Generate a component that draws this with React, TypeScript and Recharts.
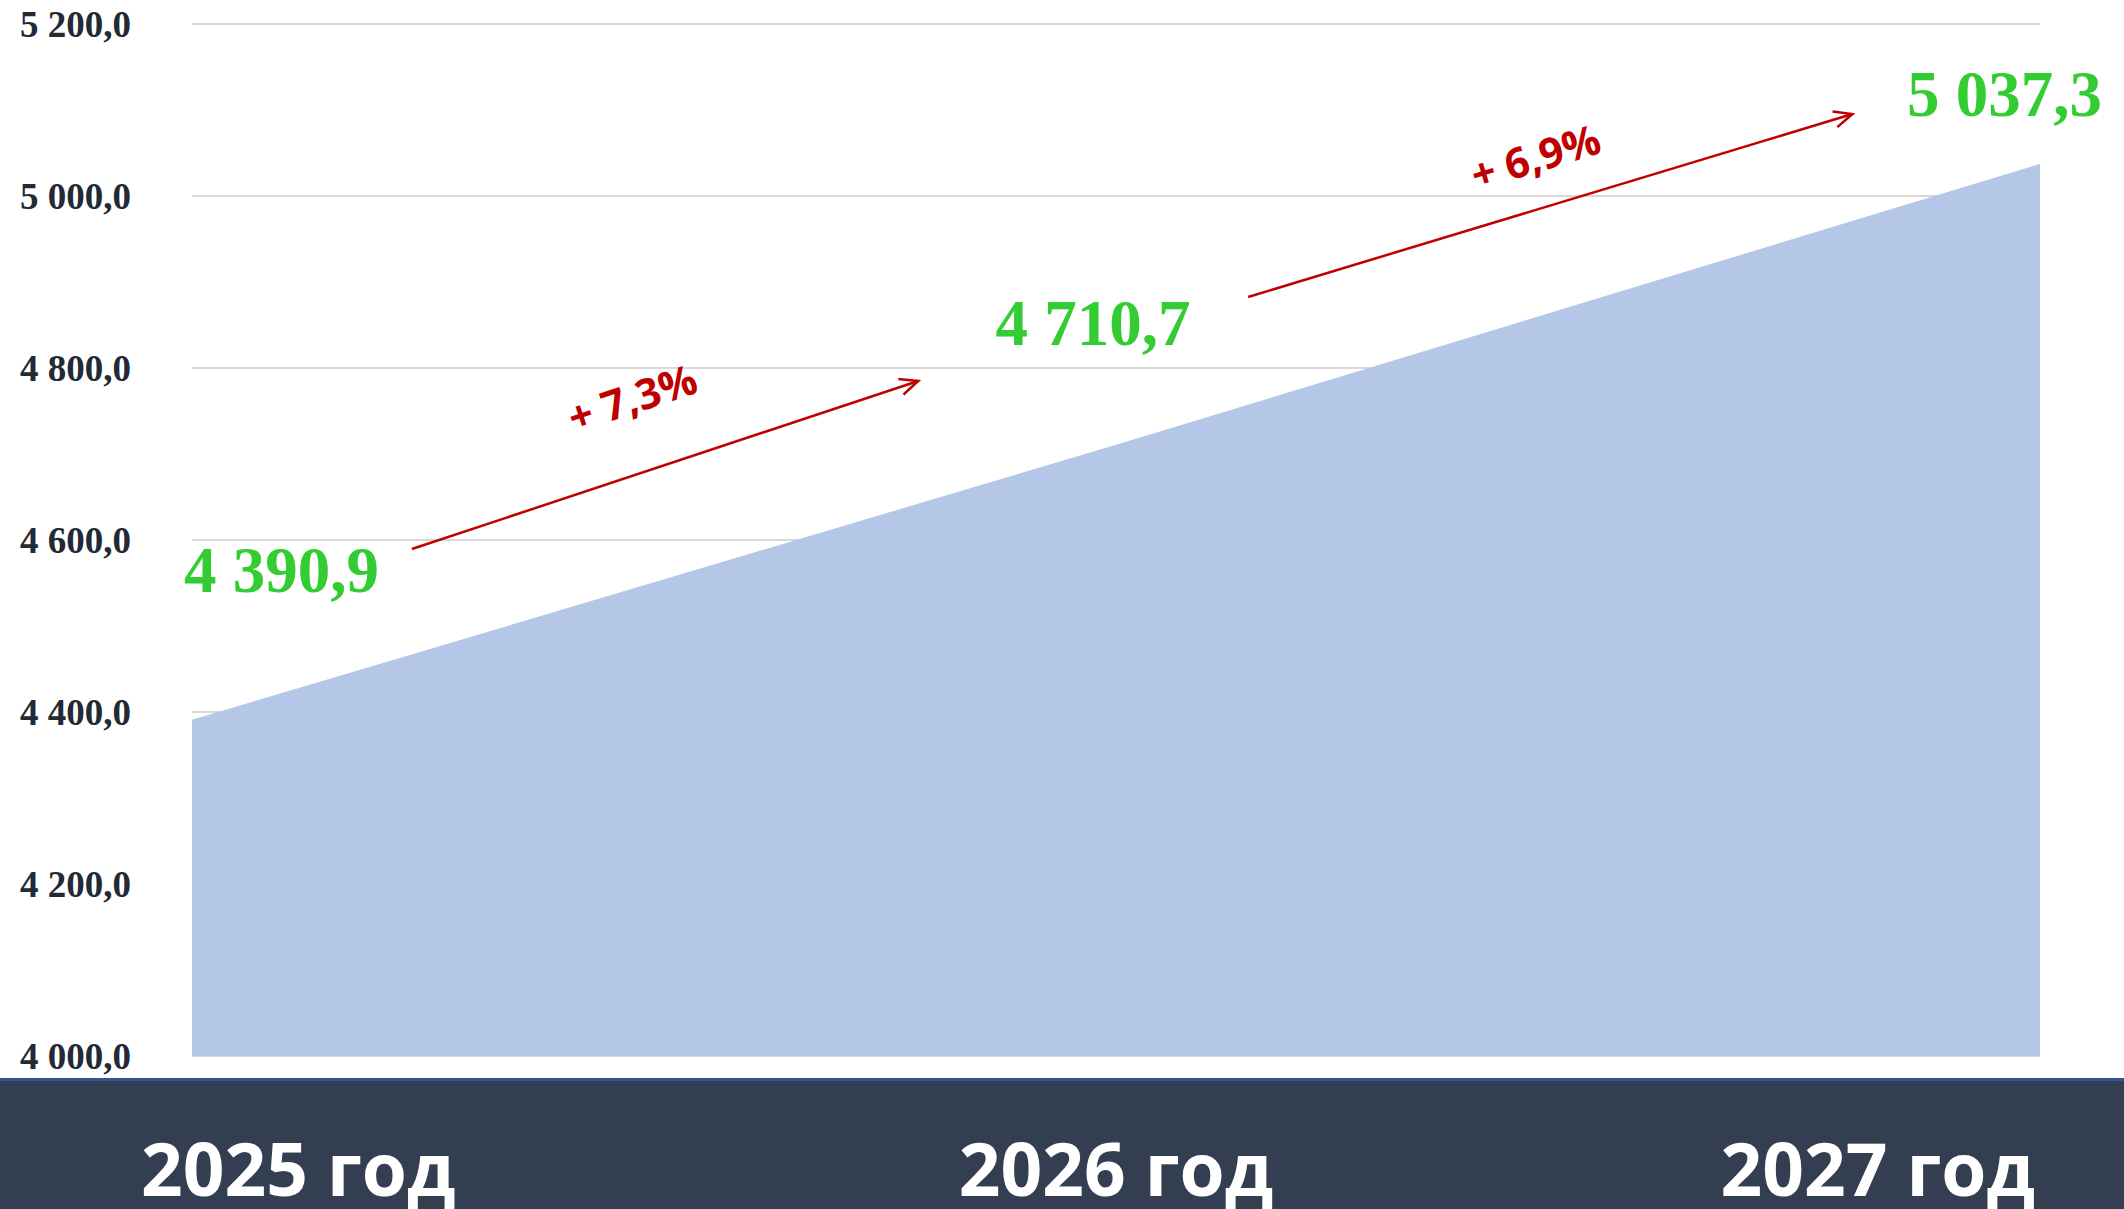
import { AreaChart, Area, XAxis, YAxis, CartesianGrid, LabelList, ReferenceLine } from 'recharts'

const years = [2025, 2026, 2027]
const values = [4390.9, 4710.7, 5037.3]
const yTicks = [4000, 4200, 4400, 4600, 4800, 5000, 5200]
const growthLabels = ['+ 7,3%', '+ 6,9%']
// growth arrows, in data units: [year, value]
const arrowStarts = [[2025.238, 4589.5], [2026.143, 4882.6]]
const arrowEnds = [[2025.786, 4784.9], [2026.797, 5095.3]]

const data = years.map((year, i) => ({ year, value: values[i] }))

const fmt = (v: number) => {
  const [int, frac] = v.toFixed(1).split('.')
  return int.replace(/\B(?=(\d{3})+(?!\d))/g, ' ') + ',' + frac
}

const RED = '#c00000'

const makeArrow = (label: string, lift: number, shift: number) => (p: any) => {
  const { x1, y1, x2, y2 } = p
  const dx = x2 - x1
  const dy = y2 - y1
  const len = Math.hypot(dx, dy)
  const ux = dx / len
  const uy = dy / len
  const ang = (Math.atan2(dy, dx) * 180) / Math.PI
  const head = 20
  const t = 0.42
  const bx = -ux
  const by = -uy
  const h1x = x2 + head * (bx * Math.cos(t) - by * Math.sin(t))
  const h1y = y2 + head * (bx * Math.sin(t) + by * Math.cos(t))
  const h2x = x2 + head * (bx * Math.cos(-t) - by * Math.sin(-t))
  const h2y = y2 + head * (bx * Math.sin(-t) + by * Math.cos(-t))
  const tx = (x1 + x2) / 2 + uy * lift - ux * shift
  const ty = (y1 + y2) / 2 - ux * lift - uy * shift
  return (
    <g>
      <line x1={x1} y1={y1} x2={x2} y2={y2} stroke={RED} strokeWidth={2.5} />
      <polyline points={`${h1x},${h1y} ${x2},${y2} ${h2x},${h2y}`} fill="none" stroke={RED} strokeWidth={2.5} />
      <text
        x={tx}
        y={ty}
        transform={`rotate(${ang} ${tx} ${ty})`}
        textAnchor="middle"
        dominantBaseline="central"
        fill={RED}
        fontFamily="'Open Sans', sans-serif"
        fontWeight={700}
        fontSize={42}
      >
        {label}
      </text>
    </g>
  )
}

const labelPlacement = [
  { anchor: 'start', dx: -8, dy: -128 },
  { anchor: 'middle', dx: -23, dy: -100 },
  { anchor: 'end', dx: 62, dy: -48 },
]

const ValueLabel = (p: any) => {
  const { x, y, value, index } = p
  const pl = labelPlacement[index] || labelPlacement[1]
  return (
    <text
      x={x + pl.dx}
      y={y + pl.dy}
      textAnchor={pl.anchor}
      fill="#33cc33"
      fontFamily="'Liberation Serif', 'Times New Roman', serif"
      fontWeight={700}
      fontSize={65}
    >
      {fmt(value)}
    </text>
  )
}

const YearTick = (p: any) => {
  const { x, y, payload } = p
  const first = payload.value === years[0]
  const last = payload.value === years[years.length - 1]
  const anchor = first ? 'start' : last ? 'end' : 'middle'
  const shift = first ? -51 : last ? -5 : 0
  return (
    <text
      x={x + shift}
      y={y + 140}
      textAnchor={anchor}
      fill="#ffffff"
      fontFamily="'Open Sans', sans-serif"
      fontWeight={700}
      fontSize={73}
    >
      {payload.value} год
    </text>
  )
}

export default function App() {
  return (
    <div style={{ position: 'absolute', top: 0, left: 0, width: 2124, height: 1209, background: '#ffffff', overflow: 'hidden' }}>
      <div
        style={{
          position: 'absolute',
          top: 1078,
          left: 0,
          width: 2124,
          height: 131,
          background: '#343e51',
          borderTop: '3px solid #2f5597',
        }}
      />
      <div style={{ position: 'absolute', top: 0, left: 0 }}>
        <AreaChart width={2124} height={1209} data={data} margin={{ top: 24, right: 84, left: 0, bottom: 0 }}>
          <CartesianGrid vertical={false} stroke="#d9d9d9" strokeWidth={2} />
          <XAxis
            dataKey="year"
            type="number"
            domain={[years[0], years[years.length - 1]]}
            ticks={years}
            axisLine={false}
            tickLine={false}
            tickSize={0}
            tickMargin={0}
            height={153}
            tick={<YearTick />}
            interval={0}
          />
          <YAxis
            domain={[yTicks[0], yTicks[yTicks.length - 1]]}
            ticks={yTicks}
            width={192}
            axisLine={false}
            tickLine={false}
            tickSize={0}
            tickMargin={61}
            tickFormatter={fmt}
            tick={{ fill: '#222a35', fontSize: 37, fontWeight: 700, fontFamily: "'Liberation Serif', 'Times New Roman', serif" }}
          />
          <Area
            type="linear"
            dataKey="value"
            stroke="none"
            fill="#b4c7e7"
            fillOpacity={1}
            isAnimationActive={false}
          >
            <LabelList dataKey="value" content={<ValueLabel />} />
          </Area>
          {growthLabels.map((label, i) => (
            <ReferenceLine
              key={label}
              segment={[
                { x: arrowStarts[i][0], y: arrowStarts[i][1] },
                { x: arrowEnds[i][0], y: arrowEnds[i][1] },
              ]}
              ifOverflow="visible"
              shape={makeArrow(label, i === 0 ? 75 : 52, i === 0 ? 10 : 0)}
            />
          ))}
        </AreaChart>
      </div>
    </div>
  )
}
